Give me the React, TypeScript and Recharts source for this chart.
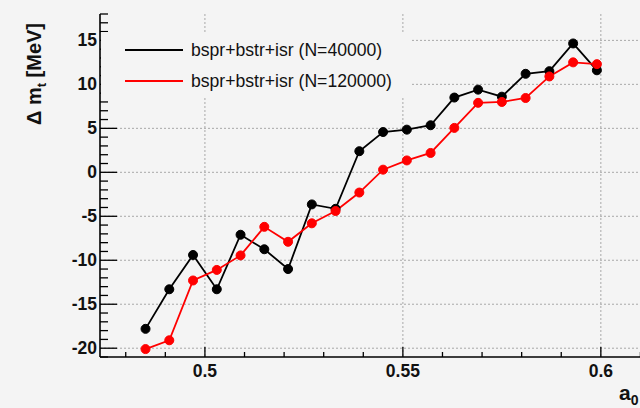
import React from 'react';
import { LineChart, Line, XAxis, YAxis, CartesianGrid, Legend, Label } from 'recharts';

// a0 scan points and Delta m_t [MeV] for the two sample sizes
const a0Values = [0.485, 0.491, 0.497, 0.503, 0.509, 0.515, 0.521, 0.527, 0.533, 0.539, 0.545, 0.551, 0.557, 0.563, 0.569, 0.575, 0.581, 0.587, 0.593, 0.599];
const dmN40k = [-17.8, -13.3, -9.4, -13.3, -7.1, -8.75, -11.0, -3.65, -4.15, 2.4, 4.58, 4.85, 5.35, 8.5, 9.4, 8.6, 11.2, 11.5, 14.65, 11.6];
const dmN120k = [-20.1, -19.1, -12.3, -11.1, -9.45, -6.2, -7.9, -5.8, -4.4, -2.3, 0.3, 1.35, 2.2, 5.05, 7.9, 8.0, 8.45, 10.9, 12.5, 12.3];

const xMajor = [0.5, 0.55, 0.6];
const xTicks = [0.48, 0.49, 0.5, 0.51, 0.52, 0.53, 0.54, 0.55, 0.56, 0.57, 0.58, 0.59, 0.6, 0.61];
const yMajor = [-20, -15, -10, -5, 0, 5, 10, 15];
const yTicks = [-21, -20, -19, -18, -17, -16, -15, -14, -13, -12, -11, -10, -9, -8, -7, -6, -5, -4, -3, -2, -1, 0, 1, 2, 3, 4, 5, 6, 7, 8, 9, 10, 11, 12, 13, 14, 15, 16, 17, 18];

const seriesNames = ['bspr+bstr+isr (N=40000)', 'bspr+bstr+isr (N=120000)'];

const data = a0Values.map((a, i) => ({ a, n40k: dmN40k[i], n120k: dmN120k[i] }));

const FONT = '"Liberation Sans", Arial, Helvetica, sans-serif';
const BG = '#f4f4f4';

const isXMajor = (v: number) => xMajor.some(m => Math.abs(m - v) < 1e-6);

const BottomTick = (props: any) => {
  const { x, y, payload } = props;
  const major = isXMajor(payload.value);
  return (
    <g>
      <line x1={x} x2={x} y1={y} y2={y - (major ? 10 : 5)} stroke="#000" strokeWidth={1.3} />
      {major && (
        <text x={x} y={y + 20} textAnchor="middle" fontFamily={FONT} fontWeight="bold" fontSize={17.5} fill="#111">
          {payload.value}
        </text>
      )}
    </g>
  );
};

const TopTick = (props: any) => {
  const { x, y, payload } = props;
  const major = isXMajor(payload.value);
  return <line x1={x} x2={x} y1={y} y2={y + (major ? 10 : 5)} stroke="#000" strokeWidth={1.3} />;
};

const LeftTick = (props: any) => {
  const { x, y, payload } = props;
  const major = yMajor.includes(payload.value);
  return (
    <g>
      <line x1={x} x2={x + (major ? 17 : 8)} y1={y} y2={y} stroke="#000" strokeWidth={1.3} />
      {major && (
        <text x={x - 3} y={y + 6} textAnchor="end" fontFamily={FONT} fontWeight="bold" fontSize={17.5} fill="#111">
          {payload.value}
        </text>
      )}
    </g>
  );
};

const RightTick = (props: any) => {
  const { x, y, payload } = props;
  const major = yMajor.includes(payload.value);
  return <line x1={x} x2={x - (major ? 17 : 8)} y1={y} y2={y} stroke="#000" strokeWidth={1.3} />;
};

const LegendBox = () => (
  <svg width={310} height={64} style={{ display: 'block', background: BG }}>
    <line x1={24} x2={82} y1={18} y2={18} stroke="#000" strokeWidth={1.8} />
    <text x={90} y={24} fontFamily={FONT} fontSize={17.6} fill="#111">{seriesNames[0]}</text>
    <line x1={24} x2={82} y1={49} y2={49} stroke="#ff0000" strokeWidth={1.8} />
    <text x={90} y={55} fontFamily={FONT} fontSize={17.6} fill="#111">{seriesNames[1]}</text>
  </svg>
);

const YTitle = () => (
  <text transform="translate(41,74) rotate(-90)" textAnchor="middle" fontFamily={FONT} fontWeight="bold" fontSize={20} fill="#111">
    {'\u0394 m'}
    <tspan fontSize={13} dy={5}>t</tspan>
    <tspan dy={-5}>{' [MeV]'}</tspan>
  </text>
);

const XTitle = () => (
  <text x={619} y={400} fontFamily={FONT} fontWeight="bold" fontSize={21} fill="#111">
    a<tspan fontSize={14} dy={5}>0</tspan>
  </text>
);

export default function App() {
  return (
    <div style={{ position: 'fixed', left: 0, top: 0, width: 640, height: 408, overflow: 'hidden', background: BG }}>
      <LineChart width={660} height={408} data={data} margin={{ top: 14, right: 16, bottom: 0, left: 0 }}>
        <CartesianGrid
          horizontalValues={yMajor}
          verticalValues={xMajor}
          stroke="#a8a8a8"
          strokeDasharray="2 2"
        />
        <XAxis
          dataKey="a"
          type="number"
          domain={[0.4735, 0.6109]}
          allowDataOverflow
          ticks={xTicks}
          interval={0}
          height={51}
          tickSize={0}
          tickMargin={0}
          tickLine={false}
          tick={BottomTick}
          axisLine={{ stroke: '#000', strokeWidth: 1.6 }}
        >
          <Label content={XTitle} />
        </XAxis>
        <XAxis
          xAxisId="top"
          orientation="top"
          type="number"
          domain={[0.4735, 0.6109]}
          allowDataOverflow
          ticks={xTicks}
          interval={0}
          height={0}
          tickSize={0}
          tickMargin={0}
          tickLine={false}
          tick={TopTick}
          axisLine={{ stroke: '#000', strokeWidth: 1.6 }}
        />
        <YAxis
          type="number"
          domain={[-21, 18]}
          allowDataOverflow
          ticks={yTicks}
          interval={0}
          width={100}
          tickSize={0}
          tickMargin={0}
          tickLine={false}
          tick={LeftTick}
          axisLine={{ stroke: '#000', strokeWidth: 1.6 }}
        >
          <Label content={YTitle} />
        </YAxis>
        <YAxis
          yAxisId="right"
          orientation="right"
          type="number"
          domain={[-21, 18]}
          allowDataOverflow
          ticks={yTicks}
          interval={0}
          width={0}
          tickSize={0}
          tickMargin={0}
          tickLine={false}
          tick={RightTick}
          axisLine={{ stroke: '#000', strokeWidth: 1.6 }}
        />
        <Legend
          layout="horizontal"
          verticalAlign="middle"
          align="center"
          wrapperStyle={{ left: 101, top: 32, width: 310, height: 64 }}
          content={LegendBox}
        />
        <Line
          dataKey="n40k"
          name={seriesNames[0]}
          stroke="#000"
          strokeWidth={1.8}
          dot={{ r: 4.5, fill: '#000', stroke: '#000', strokeWidth: 1 }}
          isAnimationActive={false}
        />
        <Line
          dataKey="n120k"
          name={seriesNames[1]}
          stroke="#ff0000"
          strokeWidth={1.8}
          dot={{ r: 4.5, fill: '#ff0000', stroke: '#ff0000', strokeWidth: 1 }}
          isAnimationActive={false}
        />
      </LineChart>
    </div>
  );
}
